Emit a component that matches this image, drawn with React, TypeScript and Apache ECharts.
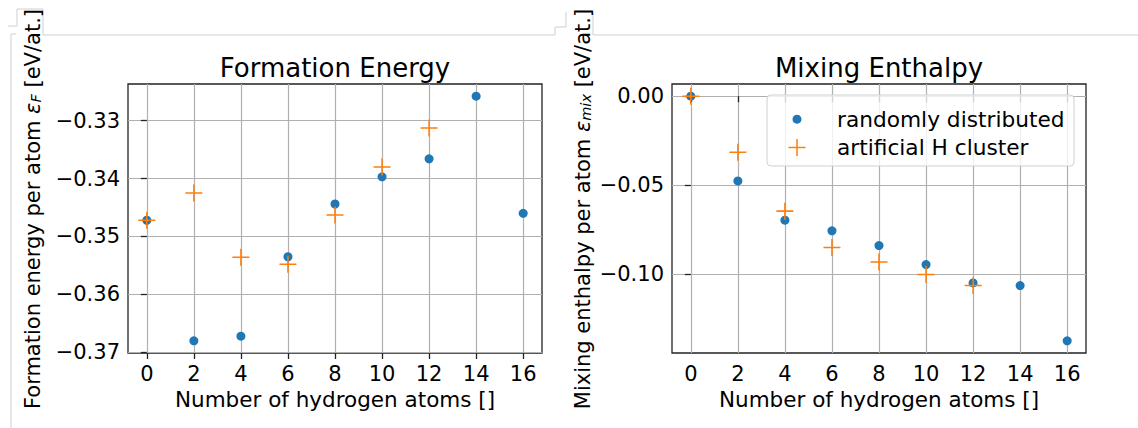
import React, { useEffect, useRef } from 'react';
import * as echarts from 'echarts';

const hydrogen = [0, 2, 4, 6, 8, 10, 12, 14, 16];
const hydrogenCluster = [0, 2, 4, 6, 8, 10, 12];
const formationRandom = [-0.3472, -0.368, -0.3672, -0.3535, -0.3444, -0.3397, -0.3366, -0.3258, -0.346];
const formationCluster = [-0.3472, -0.3425, -0.3536, -0.3548, -0.3463, -0.338, -0.3313];
const mixingRandom = [0, -0.0477, -0.0698, -0.0758, -0.0841, -0.0948, -0.1051, -0.1066, -0.1377];
const mixingCluster = [0, -0.0315, -0.0647, -0.0852, -0.0934, -0.1004, -0.1066];
const xTicks = [0, 2, 4, 6, 8, 10, 12, 14, 16];
const formationTicks = [-0.37, -0.36, -0.35, -0.34, -0.33];
const mixingTicks = [-0.1, -0.05, 0];
const seriesNames = ['randomly distributed', 'artificial H cluster'];
const titles = ['Formation Energy', 'Mixing Enthalpy'];
const xLabel = 'Number of hydrogen atoms []';

const FONT = 'DejaVu Sans';
const BLUE = '#1f77b4';
const ORANGE = '#ff7f0e';
const CROSS = 'path://M0,45.5H100V54.5H0Z M45.5,0H54.5V100H45.5Z';

function pad(vals: number[], frac = 0.05) {
  const mn = Math.min(...vals);
  const mx = Math.max(...vals);
  const r = mx - mn;
  return [mn - r * frac, mx + r * frac];
}

const fmtY = (v: number) => (v < 0 ? '\u2212' : '') + Math.abs(v).toFixed(2);

const yLabelRich = {
  a: { fontFamily: FONT, fontSize: 21, fill: '#000' },
  e: { fontFamily: FONT, fontSize: 21, fontStyle: 'italic', fill: '#000' },
  s: { fontFamily: FONT, fontSize: 14.5, fontStyle: 'italic', fill: '#000', verticalAlign: 'bottom' },
};

export default function App() {
  const ref = useRef<HTMLDivElement>(null);
  useEffect(() => {
    if (!ref.current) return;
    const chart = echarts.init(ref.current, undefined, { renderer: 'svg' });
    const xr = pad(hydrogen);
    const fr = pad([...formationRandom, ...formationCluster]);
    const mr = pad([...mixingRandom, ...mixingCluster]);

    const xAxisBase = (idx: number) => ({
      type: 'value',
      gridIndex: idx,
      min: xr[0],
      max: xr[1],
      name: xLabel,
      nameLocation: 'middle',
      nameGap: 32,
      nameTextStyle: { fontFamily: FONT, fontSize: 21.5, color: '#000', verticalAlign: 'top' },
      axisLine: { show: false },
      axisTick: { show: true, customValues: xTicks, length: 6, lineStyle: { color: '#222', width: 1.3 } },
      axisLabel: {
        customValues: xTicks,
        fontFamily: FONT,
        fontSize: 21,
        color: '#000',
        margin: 10,
        formatter: (v: number) => String(v),
      },
      splitLine: { show: true, lineStyle: { color: '#b0b0b0', width: 1.2 } },
    });
    const yAxisBase = (idx: number, range: number[], ticks: number[]) => ({
      type: 'value',
      gridIndex: idx,
      min: range[0],
      max: range[1],
      axisLine: { show: false },
      axisTick: { show: true, customValues: ticks, length: 6, lineStyle: { color: '#222', width: 1.3 } },
      axisLabel: {
        customValues: ticks,
        fontFamily: FONT,
        fontSize: 21,
        color: '#000',
        margin: 8,
        formatter: (v: number) => fmtY(v),
      },
      splitLine: { show: true, lineStyle: { color: '#b0b0b0', width: 1.2 } },
    });

    const scatter = (name: string, xs: number[], ys: number[], idx: number, cross: boolean) => ({
      type: 'scatter',
      name,
      xAxisIndex: idx,
      yAxisIndex: idx,
      data: xs.map((x, i) => [x, ys[i]]),
      symbol: cross ? CROSS : 'circle',
      symbolSize: cross ? 17 : 9,
      itemStyle: { color: cross ? ORANGE : BLUE, opacity: 1 },
      z: cross ? 3 : 2,
    });

    const legendText = (padLeft: number) => ({
      fontFamily: FONT,
      fontSize: 21.7,
      color: '#000',
      padding: [0, 0, 0, padLeft],
    });

    chart.setOption({
      animation: false,
      backgroundColor: '#fff',
      grid: [
        { left: 128, top: 84, width: 414, height: 269, show: true, borderColor: '#222', borderWidth: 1.3, backgroundColor: 'transparent' },
        { left: 672, top: 84, width: 414, height: 269, show: true, borderColor: '#222', borderWidth: 1.3, backgroundColor: 'transparent' },
      ],
      xAxis: [xAxisBase(0), xAxisBase(1)],
      yAxis: [yAxisBase(0, fr, formationTicks), yAxisBase(1, mr, mixingTicks)],
      legend: [
        { data: [seriesNames[0]], orient: 'vertical', left: 792.5, top: 108.2, padding: 0, itemWidth: 9, itemHeight: 9, selectedMode: false, textStyle: legendText(30.5), z: 5 },
        { data: [seriesNames[1]], orient: 'vertical', left: 788.5, top: 136.5, padding: 0, itemWidth: 17, itemHeight: 17, selectedMode: false, textStyle: legendText(26.5), z: 5 },
      ],
      graphic: [
        { type: 'text', x: 335, y: 68, style: { text: titles[0], fontFamily: FONT, fontSize: 26, fill: '#000', align: 'center', verticalAlign: 'middle' } },
        { type: 'text', x: 879, y: 68, style: { text: titles[1], fontFamily: FONT, fontSize: 26, fill: '#000', align: 'center', verticalAlign: 'middle' } },
        {
          type: 'rect',
          shape: { x: 767, y: 95, width: 307, height: 71, r: 4 },
          style: { fill: 'rgba(255,255,255,0.8)', stroke: '#d0d0d0', lineWidth: 1 },
          z: 4,
        },
        { type: 'polyline', shape: { points: [[11, 428], [11, 34], [16, 34]] }, style: { stroke: '#cfcfcf', lineWidth: 1, fill: 'none' } },
        {
          type: 'polyline',
          shape: { points: [[8, 26], [17, 26], [17, 9], [43, 9], [43, 35], [555, 35], [555, 27], [566, 27], [566, 12]] },
          style: { stroke: '#cfcfcf', lineWidth: 1, fill: 'none' },
        },
        { type: 'polyline', shape: { points: [[593, 12], [593, 35], [1138, 35]] }, style: { stroke: '#cfcfcf', lineWidth: 1, fill: 'none' } },
        {
          type: 'text',
          x: 33,
          y: 209,
          rotation: Math.PI / 2,
          z: 10,
          style: {
            text: '{a|Formation energy per atom }{e|\u03b5}{s|F}{a| [eV/at.]}',
            align: 'center',
            verticalAlign: 'middle',
            fill: '#000',
            rich: yLabelRich,
          },
        },
        {
          type: 'text',
          x: 583,
          y: 209,
          rotation: Math.PI / 2,
          z: 10,
          style: {
            text: '{a|Mixing enthalpy per atom }{e|\u03b5}{s|mix}{a| [eV/at.]}',
            align: 'center',
            verticalAlign: 'middle',
            fill: '#000',
            rich: yLabelRich,
          },
        },
      ],
      series: [
        scatter(seriesNames[0], hydrogen, formationRandom, 0, false),
        scatter(seriesNames[1], hydrogenCluster, formationCluster, 0, true),
        scatter(seriesNames[0], hydrogen, mixingRandom, 1, false),
        scatter(seriesNames[1], hydrogenCluster, mixingCluster, 1, true),
      ],
    });
    return () => chart.dispose();
  }, []);
  return <div ref={ref} style={{ position: 'absolute', left: 0, top: 0, width: 1138, height: 428 }} />;
}
